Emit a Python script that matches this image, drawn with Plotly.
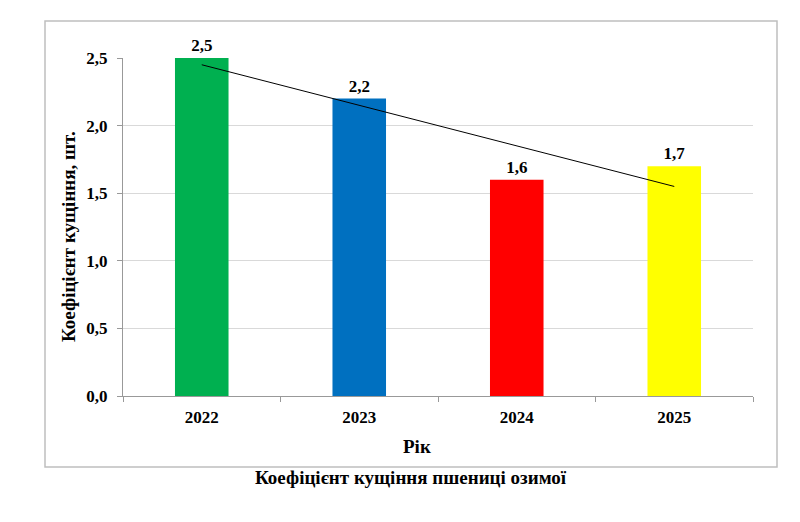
import numpy as np
import plotly.graph_objects as go

years = ["2022", "2023", "2024", "2025"]
values = [2.5, 2.2, 1.6, 1.7]
colors = ["#00B050", "#0070C0", "#FF0000", "#FFFF00"]
y_ticks = [0.0, 0.5, 1.0, 1.5, 2.0, 2.5]

FONT = "Liberation Serif, Times New Roman, serif"

xi = np.arange(len(values))
slope, intercept = np.polyfit(xi, values, 1)
trend = [intercept + slope * i for i in xi]

fig = go.Figure()
fig.add_trace(go.Bar(
    x=years, y=values, marker=dict(color=colors, line=dict(width=0)),
    texttemplate="<b>%{y:.1f}</b>", textposition="outside", cliponaxis=False,
    textfont=dict(family=FONT, size=17, color="black"), showlegend=False,
))
fig.add_trace(go.Scatter(
    x=years, y=trend, mode="lines", line=dict(color="black", width=1),
    showlegend=False, hoverinfo="skip",
))

fig.update_layout(
    width=800, height=522, separators=", ",
    margin=dict(l=123, r=47, t=58, b=126),
    paper_bgcolor="white", plot_bgcolor="white",
    bargap=0.66,
    font=dict(family=FONT, color="black"),
    xaxis=dict(
        type="category", showgrid=False, showline=True, linecolor="#999999", linewidth=1,
        ticks="outside", tickson="boundaries", ticklen=5, tickcolor="#999999",
        tickfont=dict(family=FONT, size=17, color="black"),
        ticktext=[f"<b>{y}</b>" for y in years], tickvals=years,
        ticklabelstandoff=6,
    ),
    yaxis=dict(
        range=[0, 2.5], tickvals=y_ticks,
        ticktext=[f"<b>{v:.1f}</b>".replace(".", ",") for v in y_ticks],
        showgrid=True, gridcolor="#d9d9d9", gridwidth=1,
        showline=True, linecolor="#999999", linewidth=1,
        ticks="outside", ticklen=5, tickcolor="#999999",
        tickfont=dict(family=FONT, size=17, color="black"),
        ticklabelstandoff=6,
        zeroline=False,
    ),
    shapes=[dict(type="rect", xref="paper", yref="paper",
                 x0=(45 - 123) / 630, x1=(777 - 123) / 630,
                 y0=(396 - 467) / 338, y1=(396 - 21) / 338,
                 line=dict(color="#bfbfbf", width=1.5), fillcolor="rgba(0,0,0,0)", layer="below")],
    annotations=[
        dict(text="<b>Коефіцієнт кущіння, шт.</b>", xref="paper", yref="paper",
             x=(69 - 123) / 630, y=(396 - 237) / 338, textangle=-90, showarrow=False,
             font=dict(family=FONT, size=19, color="black"), xanchor="center", yanchor="middle"),
        dict(text="<b>Рік</b>", xref="paper", yref="paper",
             x=(417 - 123) / 630, y=(396 - 446) / 338, showarrow=False,
             font=dict(family=FONT, size=19, color="black"), xanchor="center", yanchor="middle"),
        dict(text="<b>Коефіцієнт кущіння пшениці озимої</b>", xref="paper", yref="paper",
             x=(411 - 123) / 630, y=(396 - 478) / 338, showarrow=False,
             font=dict(family=FONT, size=19, color="black"), xanchor="center", yanchor="middle"),
    ],
)

fig.write_html("out.html")
